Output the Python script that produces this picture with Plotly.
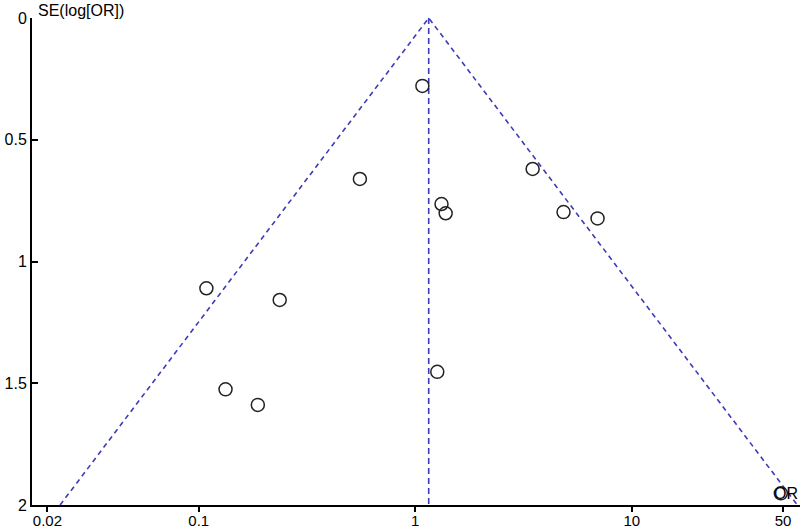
import plotly.graph_objects as go
import numpy as np

# study estimates (odds ratio, standard error of log OR)
study_or = [1.079, 0.555, 3.485, 1.322, 1.382, 4.84, 6.95,
            0.1085, 0.2366, 0.133, 0.1875, 1.264, 48.8]
study_se = [0.279, 0.661, 0.620, 0.764, 0.802, 0.797, 0.823,
            1.110, 1.158, 1.525, 1.589, 1.453, 1.952]

pooled_or = 1.154
funnel_se = [0.0, 2.0]

x_ticks = [0.02, 0.1, 1, 10, 50]
x_tick_text = ["0.02", "0.1", "1", "10", "50"]
y_ticks = [0, 0.5, 1, 1.5, 2]
y_tick_text = ["0", "0.5", "1", "1.5", "2"]

line_blue = "#3b3bb8"

# 95% pseudo-confidence limits
log_pooled = np.log(pooled_or)
left_x = [float(np.exp(log_pooled - 1.96 * s)) for s in funnel_se]
right_x = [float(np.exp(log_pooled + 1.96 * s)) for s in funnel_se]

fig = go.Figure()
fig.add_trace(go.Scatter(
    x=[left_x[1], left_x[0], right_x[1]],
    y=[funnel_se[1], funnel_se[0], funnel_se[1]],
    mode="lines",
    line=dict(color=line_blue, width=1.6, dash="5px,4px"),
    hoverinfo="skip"
))
fig.add_trace(go.Scatter(
    x=[pooled_or, pooled_or],
    y=funnel_se,
    mode="lines",
    line=dict(color=line_blue, width=1.6, dash="6px,4px"),
    hoverinfo="skip"
))
fig.add_trace(go.Scatter(
    x=study_or,
    y=study_se,
    mode="markers",
    marker=dict(symbol="circle-open", size=13, color="#222222",
                line=dict(width=1.5, color="#222222"))
))

fig.update_layout(
    width=800,
    height=529,
    showlegend=False,
    plot_bgcolor="white",
    paper_bgcolor="white",
    margin=dict(l=32, r=0, t=18, b=24),
    font=dict(family="Liberation Sans, Arial", size=16, color="black"),
    xaxis=dict(
        type="log",
        range=[-1.770, 1.777],
        tickvals=x_ticks,
        ticktext=x_tick_text,
        tickfont=dict(size=15),
        ticks="outside",
        ticklen=5,
        tickwidth=1.5,
        tickcolor="black",
        ticklabelstandoff=-4,
        showgrid=False,
        zeroline=False,
        showline=True,
        linecolor="black",
        linewidth=2,
        automargin=False,
    ),
    yaxis=dict(
        range=[2, 0],
        tickvals=y_ticks,
        ticktext=y_tick_text,
        ticks="inside",
        ticklen=6,
        tickwidth=1.5,
        tickcolor="black",
        showgrid=False,
        zeroline=False,
        showline=True,
        linecolor="black",
        linewidth=2,
        automargin=False,
    ),
    annotations=[
        dict(text="SE(log[OR])", xref="paper", yref="paper", x=0, y=1,
             xanchor="left", yanchor="bottom", showarrow=False,
             xshift=4, yshift=-3, font=dict(size=16)),
        dict(text="OR", xref="paper", yref="paper", x=1, y=0,
             xanchor="right", yanchor="bottom", showarrow=False,
             yshift=1, font=dict(size=16)),
    ],
)

# the page has a default body margin; drop it so the figure fills the window
fig.write_html("out.html", config={"displayModeBar": False},
               post_script="document.body.style.margin='0';")
